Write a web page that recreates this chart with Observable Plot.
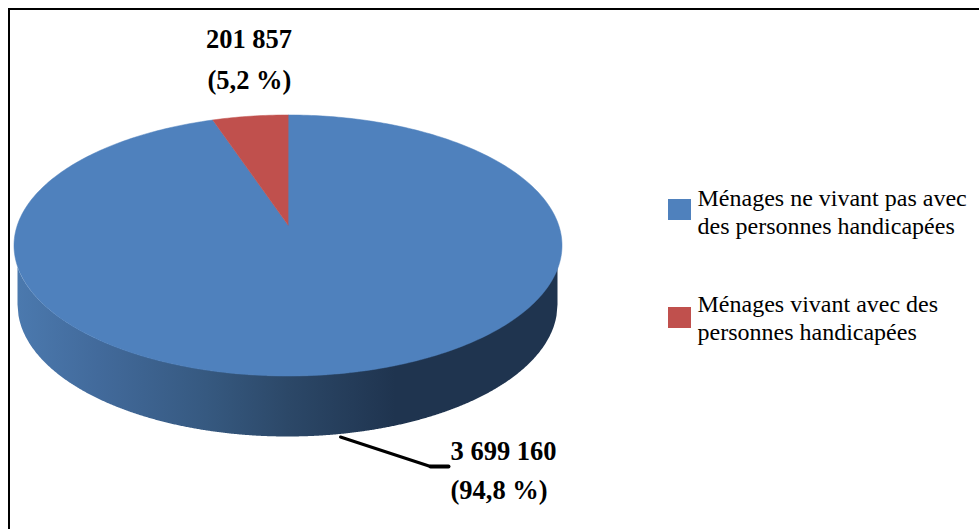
<!DOCTYPE html>
<html lang="fr">
<head>
<meta charset="utf-8">
<script src="https://cdn.jsdelivr.net/npm/d3@7"></script>
<script src="https://cdn.jsdelivr.net/npm/@observablehq/plot@0.6"></script>
<style>
html,body{margin:0;padding:0;background:#fff;overflow:hidden}
svg{display:block}
</style>
</head>
<body>
<div id="chart"></div>
<script>
// Data
const categories = ["Ménages ne vivant pas avec des personnes handicapées", "Ménages vivant avec des personnes handicapées"];
const values = [3699160, 201857];
const sliceColors = ["#4f81bd", "#c0504d"];
const valueLabels = ["3 699 160", "201 857"];
const shareLabels = ["(94,8 %)", "(5,2 %)"];
const legendLines = [["Ménages ne vivant pas avec", "des personnes handicapées"], ["Ménages vivant avec des", "personnes handicapées"]];

// View of the disc: top face by perspective, wall as a lower ellipse
const cx = 287.5, apexY = 224.5, persp = 0.157, scaleX = 270.6, scaleY = 127.3;
const topEllipse = {cy: 245, rx: 274, ry: 130.5};
const baseEllipse = {cy: 304.5, rx: 270, ry: 132};

const project = (a, r = 1) => {
  const u = Math.sin(a) * r, v = -Math.cos(a) * r, w = 1 - persp * v;
  return {x: cx + scaleX * u / w, y: apexY + scaleY * v / w};
};

const arcs = d3.pie().sort(null)(values);
const wedges = arcs.map((arc, i) => {
  const n = Math.max(2, Math.ceil((arc.endAngle - arc.startAngle) * 60));
  const pts = [{x: cx, y: apexY}];
  for (let k = 0; k <= n; ++k) pts.push(project(arc.startAngle + (arc.endAngle - arc.startAngle) * k / n));
  return {pts, color: sliceColors[i]};
});

const ellipseY = (e, x, rx = e.rx) => e.cy + e.ry * Math.sqrt(Math.max(0, 1 - ((x - cx) / rx) ** 2));
const wall = d3.range(cx - baseEllipse.rx, cx + baseEllipse.rx + 0.5, 1).map(x => ({
  x, y1: ellipseY(baseEllipse, x), y2: ellipseY(topEllipse, x)
}));

const gradient = () => {
  const svg = d3.create("svg:defs");
  const g = svg.append("linearGradient").attr("id", "wallShade").attr("x1", 0).attr("x2", 1).attr("y1", 0).attr("y2", 0);
  [[0, "#4b79ae"], [0.15, "#426a9b"], [0.35, "#365980"], [0.5, "#2c4868"], [0.7, "#1f344f"], [1, "#1f344f"]]
    .forEach(([o, c]) => g.append("stop").attr("offset", o).attr("stop-color", c));
  return svg.node();
};

const serif = "'Liberation Serif', serif";
const textRow = (text, x, y, size, weight, anchor = "start") =>
  Plot.text([text], {x: () => x, y: () => y, text: d => d, fontSize: size, fontWeight: weight, fontFamily: serif,
    fill: "#000", textAnchor: anchor, lineAnchor: "bottom"});

const chart = Plot.plot({
  width: 979, height: 529,
  margin: 0,
  style: {background: "#fff"},
  x: {domain: [0, 979], range: [0, 979], axis: null},
  y: {domain: [0, 529], range: [0, 529], axis: null},
  marks: [
    gradient,
    Plot.ruleX([8.5], {y1: 8, y2: 529, stroke: "#000", strokeWidth: 2}),
    Plot.ruleY([8.5], {x1: 8, x2: 979, stroke: "#000", strokeWidth: 2}),
    Plot.line([{x: 340, y: 436.5}, {x: 430, y: 466}], {x: "x", y: "y", stroke: "#000", strokeWidth: 3}),
    Plot.line([{x: 430, y: 466}, {x: 448, y: 466}], {x: "x", y: "y", stroke: "#000", strokeWidth: 4}),
    Plot.areaY(wall, {x: "x", y1: "y1", y2: "y2", fill: "url(#wallShade)"}),
    ...wedges.map(w => Plot.line(w.pts, {x: "x", y: "y", fill: w.color, stroke: w.color, strokeWidth: 0.5, curve: "linear-closed"})),
    textRow(valueLabels[1], 248.5, 47, 26.5, "bold", "middle"),
    textRow(shareLabels[1], 249, 88, 26.5, "bold", "middle"),
    textRow(valueLabels[0], 450, 459, 26.5, "bold"),
    textRow(shareLabels[0], 450, 498, 26.5, "bold"),
    Plot.rect(categories, {x1: () => 668, x2: () => 691, y1: (d, i) => [199, 307][i], y2: (d, i) => [220, 328][i], fill: (d, i) => sliceColors[i]}),
    textRow(legendLines[0][0], 697, 205, 24, "normal"),
    textRow(legendLines[0][1], 697, 233, 24, "normal"),
    textRow(legendLines[1][0], 697, 311, 24, "normal"),
    textRow(legendLines[1][1], 697, 339, 24, "normal")
  ]
});
document.getElementById("chart").appendChild(chart);
</script>
</body>
</html>
